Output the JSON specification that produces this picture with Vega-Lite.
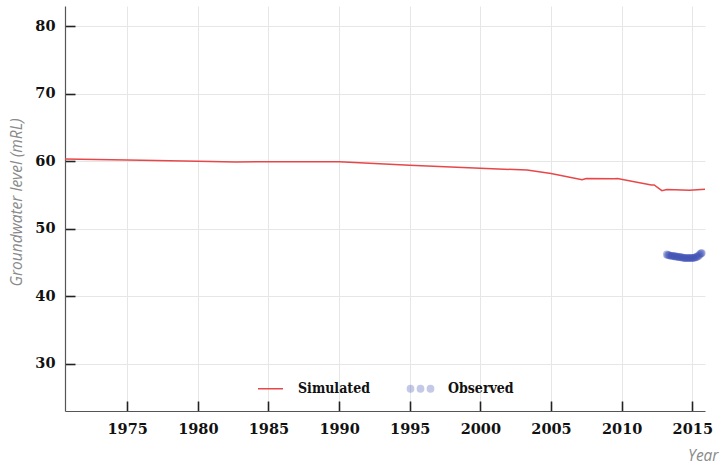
{
  "$schema": "https://vega.github.io/schema/vega-lite/v6.json",
  "autosize": {"type": "none"},
  "padding": {"left": 65, "top": 6, "right": 15, "bottom": 55},
  "width": 640,
  "height": 405,
  "background": "white",
  "datasets": {
    "sim": [
      {"year": 1970.6, "level": 60.35, "series": "Simulated"},
      {"year": 1975, "level": 60.2, "series": "Simulated"},
      {"year": 1980, "level": 60.0, "series": "Simulated"},
      {"year": 1982.7, "level": 59.9, "series": "Simulated"},
      {"year": 1985, "level": 59.92, "series": "Simulated"},
      {"year": 1990, "level": 59.92, "series": "Simulated"},
      {"year": 1995, "level": 59.4, "series": "Simulated"},
      {"year": 2000, "level": 58.95, "series": "Simulated"},
      {"year": 2003.3, "level": 58.7, "series": "Simulated"},
      {"year": 2005, "level": 58.2, "series": "Simulated"},
      {"year": 2007.2, "level": 57.25, "series": "Simulated"},
      {"year": 2007.5, "level": 57.45, "series": "Simulated"},
      {"year": 2009.5, "level": 57.4, "series": "Simulated"},
      {"year": 2009.7, "level": 57.45, "series": "Simulated"},
      {"year": 2012.1, "level": 56.5, "series": "Simulated"},
      {"year": 2012.3, "level": 56.5, "series": "Simulated"},
      {"year": 2012.85, "level": 55.65, "series": "Simulated"},
      {"year": 2013.2, "level": 55.8, "series": "Simulated"},
      {"year": 2014.8, "level": 55.7, "series": "Simulated"},
      {"year": 2015.9, "level": 55.85, "series": "Simulated"}
    ],
    "obs": [
      {"year": 2013.2, "level": 46.2, "series": "Observed"},
      {"year": 2013.28, "level": 46.1, "series": "Observed"},
      {"year": 2013.36, "level": 46.1, "series": "Observed"},
      {"year": 2013.45, "level": 46.0, "series": "Observed"},
      {"year": 2013.53, "level": 46.0, "series": "Observed"},
      {"year": 2013.61, "level": 46.0, "series": "Observed"},
      {"year": 2013.7, "level": 45.95, "series": "Observed"},
      {"year": 2013.78, "level": 45.9, "series": "Observed"},
      {"year": 2013.86, "level": 45.9, "series": "Observed"},
      {"year": 2013.95, "level": 45.85, "series": "Observed"},
      {"year": 2014.03, "level": 45.85, "series": "Observed"},
      {"year": 2014.11, "level": 45.8, "series": "Observed"},
      {"year": 2014.2, "level": 45.8, "series": "Observed"},
      {"year": 2014.28, "level": 45.75, "series": "Observed"},
      {"year": 2014.36, "level": 45.7, "series": "Observed"},
      {"year": 2014.45, "level": 45.7, "series": "Observed"},
      {"year": 2014.53, "level": 45.65, "series": "Observed"},
      {"year": 2014.61, "level": 45.7, "series": "Observed"},
      {"year": 2014.7, "level": 45.65, "series": "Observed"},
      {"year": 2014.78, "level": 45.7, "series": "Observed"},
      {"year": 2014.86, "level": 45.7, "series": "Observed"},
      {"year": 2014.95, "level": 45.65, "series": "Observed"},
      {"year": 2015.03, "level": 45.7, "series": "Observed"},
      {"year": 2015.11, "level": 45.7, "series": "Observed"},
      {"year": 2015.2, "level": 45.75, "series": "Observed"},
      {"year": 2015.28, "level": 45.8, "series": "Observed"},
      {"year": 2015.36, "level": 45.9, "series": "Observed"},
      {"year": 2015.45, "level": 46.0, "series": "Observed"},
      {"year": 2015.53, "level": 46.2, "series": "Observed"},
      {"year": 2015.61, "level": 46.35, "series": "Observed"},
      {"year": 2015.67, "level": 46.4, "series": "Observed"}
    ]
  },
  "encoding": {
    "x": {
      "field": "year",
      "type": "quantitative",
      "scale": {"domain": [1970.6, 2015.9], "nice": false, "zero": false},
      "axis": {
        "title": "Year",
        "values": [1975, 1980, 1985, 1990, 1995, 2000, 2005, 2010, 2015],
        "format": "d",
        "ticks": true,
        "tickSize": -10,
        "tickColor": "#222222",
        "tickWidth": 1.6,
        "labelPadding": 21,
        "titleX": 653,
        "titleY": 44,
        "titleAlign": "right",
        "titleBaseline": "middle",
        "titleAnchor": null
      }
    },
    "y": {
      "field": "level",
      "type": "quantitative",
      "scale": {"domain": [23, 83], "nice": false, "zero": false},
      "axis": {
        "title": "Groundwater level (mRL)",
        "values": [30, 40, 50, 60, 70, 80],
        "ticks": true,
        "tickSize": -10,
        "tickColor": "#222222",
        "tickWidth": 1.6,
        "labelPadding": 20,
        "titleX": -49,
        "titleY": 196,
        "titleAlign": "center",
        "titleBaseline": "middle",
        "titleAngle": -90
      }
    },
    "color": {
      "field": "series",
      "type": "nominal",
      "scale": {"domain": ["Simulated", "Observed"], "range": ["#e8474a", "#3f51b5"]},
      "legend": {
        "orient": "none",
        "legendX": 192,
        "legendY": 369,
        "direction": "horizontal",
        "title": null,
        "symbolSize": 625,
        "labelOffset": 14,
        "columnPadding": 34,
        "padding": 0,
        "encode": {
          "symbols": {
            "update": {
              "shape": {"signal": "datum.value === 'Observed' ? 'M-0.55,0A0.25,0.25,0,1,1,-1.05,0A0.25,0.25,0,1,1,-0.55,0Z M0.25,0A0.25,0.25,0,1,1,-0.25,0A0.25,0.25,0,1,1,0.25,0Z M1.05,0A0.25,0.25,0,1,1,0.55,0A0.25,0.25,0,1,1,1.05,0Z' : 'stroke'"},
              "fill": {"signal": "datum.value === 'Observed' ? '#3f51b5' : 'transparent'"},
              "stroke": {"signal": "datum.value === 'Observed' ? 'transparent' : '#e8474a'"},
              "strokeWidth": {"value": 1.5},
              "opacity": {"signal": "datum.value === 'Observed' ? 0.3 : 1"}
            }
          }
        }
      }
    }
  },
  "layer": [
    {
      "data": {"name": "sim"},
      "mark": {"type": "line", "strokeWidth": 1.5}
    },
    {
      "data": {"name": "obs"},
      "mark": {"type": "point", "filled": true, "size": 60, "opacity": 0.4}
    }
  ],
  "config": {
    "view": {"stroke": null},
    "axis": {
      "labelFont": "DejaVu Serif",
      "labelFontWeight": "bold",
      "labelFontSize": 14.5,
      "labelColor": "#111111",
      "titleFont": "Open Sans",
      "titleFontStyle": "italic",
      "titleFontWeight": "normal",
      "titleFontSize": 15.5,
      "titleColor": "#8a8a8a",
      "gridColor": "#e6e6e6",
      "gridWidth": 1,
      "domainColor": "#555555",
      "domainWidth": 1.2
    },
    "legend": {
      "labelFont": "DejaVu Serif Condensed",
      "labelFontWeight": "bold",
      "labelFontSize": 14,
      "labelColor": "#111111"
    }
  }
}
